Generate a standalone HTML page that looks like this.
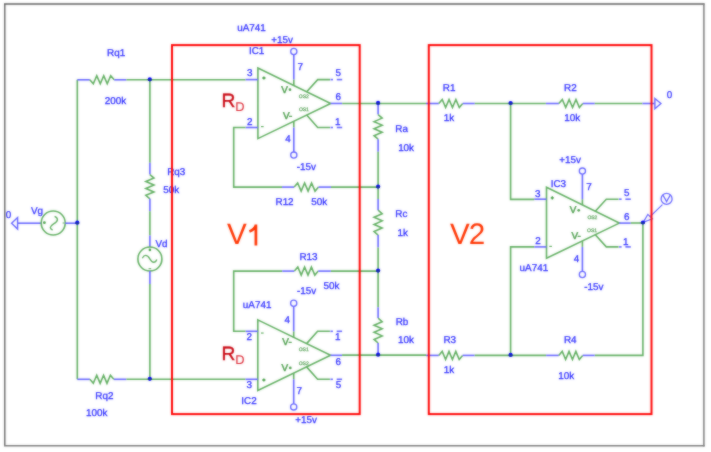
<!DOCTYPE html>
<html><head><meta charset="utf-8"><style>
html,body{margin:0;padding:0;background:#fff;}
svg{display:block;}
text{font-family:"Liberation Sans",sans-serif;text-rendering:geometricPrecision;}
text.t{stroke:#3030ff;stroke-width:0.3px;}
text.g{stroke:#4f9f4f;stroke-width:0.5px;}
text.o{stroke:#62a862;stroke-width:0.25px;}
</style></head><body>
<svg width="711" height="452" viewBox="0 0 711 452">
<defs><filter id="bl" x="0" y="0" width="1" height="1" color-interpolation-filters="sRGB"><feGaussianBlur in="SourceGraphic" stdDeviation="0.8" result="b"/><feComposite in="SourceGraphic" in2="b" operator="arithmetic" k1="0" k2="0.45" k3="0.55" k4="0"/></filter></defs>
<rect width="711" height="452" fill="#fff"/>
<g filter="url(#bl)">
<rect width="711" height="452" fill="#fff"/>
<line x1="4.8" y1="4" x2="4.8" y2="445.5" stroke="#5c5c5c" stroke-width="1.35"/>
<line x1="4" y1="4.0" x2="704.5" y2="4.0" stroke="#5c5c5c" stroke-width="1.35"/>
<line x1="703.9" y1="3.6" x2="703.9" y2="446.6" stroke="#7a7a7a" stroke-width="1.5"/>
<line x1="4" y1="445.8" x2="704.6" y2="445.8" stroke="#7a7a7a" stroke-width="1.5"/>
<line x1="77.30" y1="79.80" x2="77.30" y2="379.30" stroke="#60ae60" stroke-width="1.6"/>
<line x1="77.30" y1="79.80" x2="89.80" y2="79.80" stroke="#6464ff" stroke-width="1.6"/>
<polyline points="89.80,79.80 93.29,83.85 96.77,75.75 100.26,83.85 103.74,75.75 107.23,83.85 110.71,75.75 114.20,79.80" stroke="#60ae60" stroke-width="1.6" fill="none" stroke-linejoin="miter"/>
<line x1="114.20" y1="79.80" x2="126.40" y2="79.80" stroke="#6464ff" stroke-width="1.6"/>
<line x1="126.40" y1="79.70" x2="245.60" y2="79.70" stroke="#60ae60" stroke-width="1.6"/>
<line x1="149.90" y1="79.80" x2="149.90" y2="162.70" stroke="#60ae60" stroke-width="1.6"/>
<line x1="149.90" y1="162.70" x2="149.90" y2="174.60" stroke="#6464ff" stroke-width="1.6"/>
<polyline points="149.90,174.60 153.95,178.06 145.85,181.51 153.95,184.97 145.85,188.43 153.95,191.89 145.85,195.34 149.90,198.80" stroke="#60ae60" stroke-width="1.6" fill="none" stroke-linejoin="miter"/>
<line x1="149.90" y1="198.80" x2="149.90" y2="211.20" stroke="#6464ff" stroke-width="1.6"/>
<line x1="149.90" y1="211.20" x2="149.90" y2="235.50" stroke="#60ae60" stroke-width="1.6"/>
<line x1="149.90" y1="235.50" x2="149.90" y2="247.00" stroke="#6464ff" stroke-width="1.6"/>
<circle cx="149.90" cy="259.00" r="12.00" stroke="#60ae60" stroke-width="1.6" fill="none"/>
<path d="M142.3,258.2 C144.1,254.6 147.1,254.2 149.8,258.8 C152.4,263.4 155.3,263.2 156.8,259.4" stroke="#60ae60" stroke-width="1.4" fill="none"/>
<circle cx="149.90" cy="249.90" r="1.30" fill="#48a048"/>
<rect x="148.6" y="268.1" width="2.6" height="1.1" fill="#6aae6a"/>
<line x1="149.90" y1="271.00" x2="149.90" y2="283.90" stroke="#6464ff" stroke-width="1.6"/>
<line x1="149.90" y1="283.90" x2="149.90" y2="379.30" stroke="#60ae60" stroke-width="1.6"/>
<line x1="77.30" y1="379.30" x2="89.90" y2="379.30" stroke="#6464ff" stroke-width="1.6"/>
<polyline points="89.90,379.30 93.31,383.35 96.73,375.25 100.14,383.35 103.56,375.25 106.97,383.35 110.39,375.25 113.80,379.30" stroke="#60ae60" stroke-width="1.6" fill="none" stroke-linejoin="miter"/>
<line x1="113.80" y1="379.30" x2="126.40" y2="379.30" stroke="#6464ff" stroke-width="1.6"/>
<line x1="126.40" y1="379.30" x2="245.50" y2="379.30" stroke="#60ae60" stroke-width="1.6"/>
<line x1="17.60" y1="223.20" x2="41.00" y2="223.20" stroke="#6464ff" stroke-width="1.6"/>
<polygon points="17.60,217.60 11.60,223.20 17.60,229.00" stroke="#6464ff" stroke-width="1.4" fill="none" stroke-linejoin="miter"/>
<circle cx="53.20" cy="223.00" r="12.00" stroke="#60ae60" stroke-width="1.6" fill="none"/>
<line x1="65.20" y1="223.20" x2="77.30" y2="223.20" stroke="#6464ff" stroke-width="1.6"/>
<path d="M54.6,216.4 C58.6,218.2 58.4,221.2 53.6,223.8 C49.0,226.6 49.8,228.6 52.6,230.0" stroke="#60ae60" stroke-width="1.4" fill="none"/>
<circle cx="44.40" cy="222.70" r="1.40" fill="#48a048"/>
<line x1="62.60" y1="223.00" x2="64.40" y2="223.00" stroke="#60ae60" stroke-width="1.0"/>
<polygon points="257.90,68.00 330.70,103.45 257.90,138.60" stroke="#60ae60" stroke-width="1.6" fill="none" stroke-linejoin="miter"/>
<line x1="245.60" y1="79.60" x2="257.90" y2="79.60" stroke="#6464ff" stroke-width="1.6"/>
<line x1="245.60" y1="127.50" x2="257.90" y2="127.50" stroke="#6464ff" stroke-width="1.6"/>
<path d="M262.30,78.00H265.50M263.90,76.40V79.60" stroke="#3f9a3f" stroke-width="1.3"/>
<circle cx="263.90" cy="78.00" r="0.80" fill="#3f9a3f"/>
<rect x="261.00" y="126.00" width="2.6" height="1.2" fill="#5aaa5a"/>
<line x1="293.80" y1="85.48" x2="293.80" y2="79.60" stroke="#60ae60" stroke-width="1.6"/>
<line x1="293.80" y1="79.60" x2="293.80" y2="54.60" stroke="#6464ff" stroke-width="1.6"/>
<circle cx="293.80" cy="51.50" r="3.10" stroke="#6464ff" stroke-width="1.3" fill="none"/>
<line x1="293.80" y1="121.27" x2="293.80" y2="127.50" stroke="#60ae60" stroke-width="1.6"/>
<line x1="293.80" y1="127.50" x2="293.80" y2="152.00" stroke="#6464ff" stroke-width="1.6"/>
<circle cx="293.80" cy="155.10" r="3.10" stroke="#6464ff" stroke-width="1.3" fill="none"/>
<polyline points="306.70,91.76 317.70,79.60 330.00,79.60" stroke="#60ae60" stroke-width="1.6" fill="none" stroke-linejoin="miter"/>
<polyline points="306.70,115.04 317.70,127.50 330.00,127.50" stroke="#60ae60" stroke-width="1.6" fill="none" stroke-linejoin="miter"/>
<line x1="330.50" y1="79.60" x2="333.00" y2="79.60" stroke="#6464ff" stroke-width="1.6"/>
<line x1="336.80" y1="79.60" x2="342.20" y2="79.60" stroke="#6464ff" stroke-width="1.6"/>
<line x1="330.50" y1="127.50" x2="333.00" y2="127.50" stroke="#6464ff" stroke-width="1.6"/>
<line x1="336.80" y1="127.50" x2="342.20" y2="127.50" stroke="#6464ff" stroke-width="1.6"/>
<line x1="330.70" y1="103.45" x2="342.20" y2="103.45" stroke="#6464ff" stroke-width="1.6"/>
<polygon points="257.80,319.90 330.60,355.30 257.80,390.50" stroke="#60ae60" stroke-width="1.6" fill="none" stroke-linejoin="miter"/>
<line x1="245.50" y1="331.30" x2="257.80" y2="331.30" stroke="#6464ff" stroke-width="1.6"/>
<line x1="245.50" y1="379.30" x2="257.80" y2="379.30" stroke="#6464ff" stroke-width="1.6"/>
<path d="M262.25,380.00H265.45M263.85,378.40V381.60" stroke="#3f9a3f" stroke-width="1.3"/>
<circle cx="263.85" cy="380.00" r="0.80" fill="#3f9a3f"/>
<rect x="261.00" y="332.45" width="2.6" height="1.2" fill="#5aaa5a"/>
<line x1="293.70" y1="337.36" x2="293.70" y2="331.30" stroke="#60ae60" stroke-width="1.6"/>
<line x1="293.70" y1="331.30" x2="293.70" y2="306.30" stroke="#6464ff" stroke-width="1.6"/>
<circle cx="293.70" cy="303.20" r="3.10" stroke="#6464ff" stroke-width="1.3" fill="none"/>
<line x1="293.70" y1="373.14" x2="293.70" y2="379.30" stroke="#60ae60" stroke-width="1.6"/>
<line x1="293.70" y1="379.30" x2="293.70" y2="403.80" stroke="#6464ff" stroke-width="1.6"/>
<circle cx="293.70" cy="406.90" r="3.10" stroke="#6464ff" stroke-width="1.3" fill="none"/>
<polyline points="306.60,343.63 317.60,331.30 329.90,331.30" stroke="#60ae60" stroke-width="1.6" fill="none" stroke-linejoin="miter"/>
<polyline points="306.60,366.90 317.60,379.30 329.90,379.30" stroke="#60ae60" stroke-width="1.6" fill="none" stroke-linejoin="miter"/>
<line x1="330.40" y1="331.30" x2="332.90" y2="331.30" stroke="#6464ff" stroke-width="1.6"/>
<line x1="336.70" y1="331.30" x2="342.10" y2="331.30" stroke="#6464ff" stroke-width="1.6"/>
<line x1="330.40" y1="379.30" x2="332.90" y2="379.30" stroke="#6464ff" stroke-width="1.6"/>
<line x1="336.70" y1="379.30" x2="342.10" y2="379.30" stroke="#6464ff" stroke-width="1.6"/>
<line x1="330.60" y1="355.30" x2="342.10" y2="355.30" stroke="#6464ff" stroke-width="1.6"/>
<polygon points="546.50,187.30 619.30,223.10 546.50,258.30" stroke="#60ae60" stroke-width="1.6" fill="none" stroke-linejoin="miter"/>
<line x1="534.20" y1="199.20" x2="546.50" y2="199.20" stroke="#6464ff" stroke-width="1.6"/>
<line x1="534.20" y1="246.90" x2="546.50" y2="246.90" stroke="#6464ff" stroke-width="1.6"/>
<path d="M550.70,197.90H553.90M552.30,196.30V199.50" stroke="#3f9a3f" stroke-width="1.3"/>
<circle cx="552.30" cy="197.90" r="0.80" fill="#3f9a3f"/>
<rect x="549.30" y="245.80" width="2.6" height="1.2" fill="#5aaa5a"/>
<line x1="582.40" y1="204.95" x2="582.40" y2="199.20" stroke="#60ae60" stroke-width="1.6"/>
<line x1="582.40" y1="199.20" x2="582.40" y2="174.20" stroke="#6464ff" stroke-width="1.6"/>
<circle cx="582.40" cy="171.10" r="3.10" stroke="#6464ff" stroke-width="1.3" fill="none"/>
<line x1="582.40" y1="240.94" x2="582.40" y2="246.90" stroke="#60ae60" stroke-width="1.6"/>
<line x1="582.40" y1="246.90" x2="582.40" y2="271.40" stroke="#6464ff" stroke-width="1.6"/>
<circle cx="582.40" cy="274.50" r="3.10" stroke="#6464ff" stroke-width="1.3" fill="none"/>
<polyline points="595.30,211.30 606.30,199.20 618.60,199.20" stroke="#60ae60" stroke-width="1.6" fill="none" stroke-linejoin="miter"/>
<polyline points="595.30,234.70 606.30,246.90 618.60,246.90" stroke="#60ae60" stroke-width="1.6" fill="none" stroke-linejoin="miter"/>
<line x1="619.10" y1="199.20" x2="621.60" y2="199.20" stroke="#6464ff" stroke-width="1.6"/>
<line x1="625.40" y1="199.20" x2="630.80" y2="199.20" stroke="#6464ff" stroke-width="1.6"/>
<line x1="619.10" y1="246.90" x2="621.60" y2="246.90" stroke="#6464ff" stroke-width="1.6"/>
<line x1="625.40" y1="246.90" x2="630.80" y2="246.90" stroke="#6464ff" stroke-width="1.6"/>
<line x1="619.30" y1="223.10" x2="630.80" y2="223.10" stroke="#6464ff" stroke-width="1.6"/>
<polyline points="245.60,127.50 233.70,127.50 233.70,187.10 282.00,187.10" stroke="#60ae60" stroke-width="1.6" fill="none" stroke-linejoin="miter"/>
<line x1="282.00" y1="187.10" x2="294.20" y2="187.10" stroke="#6464ff" stroke-width="1.6"/>
<polyline points="294.20,187.10 297.67,183.05 301.14,191.15 304.61,183.05 308.09,191.15 311.56,183.05 315.03,191.15 318.50,187.10" stroke="#60ae60" stroke-width="1.6" fill="none" stroke-linejoin="miter"/>
<line x1="318.50" y1="187.10" x2="331.00" y2="187.10" stroke="#6464ff" stroke-width="1.6"/>
<line x1="331.00" y1="187.10" x2="378.10" y2="187.10" stroke="#60ae60" stroke-width="1.6"/>
<polyline points="245.50,331.20 233.70,331.20 233.70,271.10 282.20,271.10" stroke="#60ae60" stroke-width="1.6" fill="none" stroke-linejoin="miter"/>
<line x1="282.20" y1="271.10" x2="294.40" y2="271.10" stroke="#6464ff" stroke-width="1.6"/>
<polyline points="294.40,271.10 297.80,267.05 301.20,275.15 304.60,267.05 308.00,275.15 311.40,267.05 314.80,275.15 318.20,271.10" stroke="#60ae60" stroke-width="1.6" fill="none" stroke-linejoin="miter"/>
<line x1="318.20" y1="271.10" x2="330.90" y2="271.10" stroke="#6464ff" stroke-width="1.6"/>
<line x1="330.90" y1="271.10" x2="378.10" y2="271.10" stroke="#60ae60" stroke-width="1.6"/>
<line x1="342.20" y1="103.45" x2="426.00" y2="103.45" stroke="#60ae60" stroke-width="1.6"/>
<line x1="342.10" y1="355.15" x2="426.10" y2="355.15" stroke="#60ae60" stroke-width="1.6"/>
<line x1="378.10" y1="103.45" x2="378.10" y2="114.60" stroke="#6464ff" stroke-width="1.6"/>
<polyline points="378.10,114.60 382.15,118.11 374.05,121.63 382.15,125.14 374.05,128.66 382.15,132.17 374.05,135.69 378.10,139.20" stroke="#60ae60" stroke-width="1.6" fill="none" stroke-linejoin="miter"/>
<line x1="378.10" y1="139.20" x2="378.10" y2="151.80" stroke="#6464ff" stroke-width="1.6"/>
<line x1="378.10" y1="151.80" x2="378.10" y2="198.90" stroke="#60ae60" stroke-width="1.6"/>
<line x1="378.10" y1="198.90" x2="378.10" y2="210.20" stroke="#6464ff" stroke-width="1.6"/>
<polyline points="378.10,210.20 382.15,213.76 374.05,217.31 382.15,220.87 374.05,224.43 382.15,227.99 374.05,231.54 378.10,235.10" stroke="#60ae60" stroke-width="1.6" fill="none" stroke-linejoin="miter"/>
<line x1="378.10" y1="235.10" x2="378.10" y2="247.50" stroke="#6464ff" stroke-width="1.6"/>
<line x1="378.10" y1="247.50" x2="378.10" y2="307.20" stroke="#60ae60" stroke-width="1.6"/>
<line x1="378.10" y1="307.20" x2="378.10" y2="318.10" stroke="#6464ff" stroke-width="1.6"/>
<polyline points="378.10,318.10 382.15,321.66 374.05,325.21 382.15,328.77 374.05,332.33 382.15,335.89 374.05,339.44 378.10,343.00" stroke="#60ae60" stroke-width="1.6" fill="none" stroke-linejoin="miter"/>
<line x1="378.10" y1="343.00" x2="378.10" y2="355.15" stroke="#6464ff" stroke-width="1.6"/>
<line x1="426.00" y1="103.50" x2="438.80" y2="103.50" stroke="#6464ff" stroke-width="1.6"/>
<polyline points="438.80,103.50 442.21,99.45 445.63,107.55 449.04,99.45 452.46,107.55 455.87,99.45 459.29,107.55 462.70,103.50" stroke="#60ae60" stroke-width="1.6" fill="none" stroke-linejoin="miter"/>
<line x1="462.70" y1="103.50" x2="474.80" y2="103.50" stroke="#6464ff" stroke-width="1.6"/>
<line x1="474.80" y1="103.50" x2="545.90" y2="103.50" stroke="#60ae60" stroke-width="1.6"/>
<line x1="545.90" y1="103.50" x2="558.90" y2="103.50" stroke="#6464ff" stroke-width="1.6"/>
<polyline points="558.90,103.50 562.31,99.45 565.73,107.55 569.14,99.45 572.56,107.55 575.97,99.45 579.39,107.55 582.80,103.50" stroke="#60ae60" stroke-width="1.6" fill="none" stroke-linejoin="miter"/>
<line x1="582.80" y1="103.50" x2="594.80" y2="103.50" stroke="#6464ff" stroke-width="1.6"/>
<line x1="594.80" y1="103.50" x2="642.40" y2="103.50" stroke="#60ae60" stroke-width="1.6"/>
<line x1="642.40" y1="103.50" x2="654.90" y2="103.50" stroke="#6464ff" stroke-width="1.6"/>
<polygon points="654.90,98.50 660.90,103.50 654.90,108.70" stroke="#6464ff" stroke-width="1.4" fill="none" stroke-linejoin="miter"/>
<polyline points="510.60,103.50 510.60,199.40 534.20,199.40" stroke="#60ae60" stroke-width="1.6" fill="none" stroke-linejoin="miter"/>
<polyline points="534.20,246.90 510.60,246.90 510.60,355.40" stroke="#60ae60" stroke-width="1.6" fill="none" stroke-linejoin="miter"/>
<line x1="630.80" y1="223.00" x2="642.90" y2="223.00" stroke="#60ae60" stroke-width="1.6"/>
<polyline points="642.90,223.00 642.90,355.40 594.70,355.40" stroke="#60ae60" stroke-width="1.6" fill="none" stroke-linejoin="miter"/>
<line x1="546.10" y1="355.40" x2="558.80" y2="355.40" stroke="#6464ff" stroke-width="1.6"/>
<polyline points="558.80,355.40 562.21,351.35 565.63,359.45 569.04,351.35 572.46,359.45 575.87,351.35 579.29,359.45 582.70,355.40" stroke="#60ae60" stroke-width="1.6" fill="none" stroke-linejoin="miter"/>
<line x1="582.70" y1="355.40" x2="594.70" y2="355.40" stroke="#6464ff" stroke-width="1.6"/>
<line x1="546.10" y1="355.40" x2="510.60" y2="355.40" stroke="#60ae60" stroke-width="1.6"/>
<line x1="426.10" y1="355.40" x2="438.80" y2="355.40" stroke="#6464ff" stroke-width="1.6"/>
<polyline points="438.80,355.40 442.20,351.35 445.60,359.45 449.00,351.35 452.40,359.45 455.80,351.35 459.20,359.45 462.60,355.40" stroke="#60ae60" stroke-width="1.6" fill="none" stroke-linejoin="miter"/>
<line x1="462.60" y1="355.40" x2="474.70" y2="355.40" stroke="#6464ff" stroke-width="1.6"/>
<line x1="474.70" y1="355.40" x2="510.60" y2="355.40" stroke="#60ae60" stroke-width="1.6"/>
<polygon points="643.20,222.40 647.80,214.40 652.40,218.80" stroke="#6464ff" stroke-width="1.2" fill="none" stroke-linejoin="miter"/>
<line x1="650.10" y1="216.60" x2="662.40" y2="204.60" stroke="#6464ff" stroke-width="1.2"/>
<circle cx="666.60" cy="198.90" r="5.50" stroke="#6464ff" stroke-width="1.3" fill="none"/>
<polyline points="663.10,195.30 666.60,201.60 670.10,195.30" stroke="#6464ff" stroke-width="1.3" fill="none" stroke-linejoin="miter"/>
<text class="t" x="107.11" y="55.81" font-size="9.9" fill="#3030ff" font-weight="normal" >Rq1</text>
<text class="t" x="104.71" y="103.97" font-size="9.9" fill="#3030ff" font-weight="normal" >200k</text>
<text class="t" x="167.18" y="174.61" font-size="9.9" fill="#3030ff" font-weight="normal" >Rq3</text>
<text class="t" x="163.36" y="192.57" font-size="9.9" fill="#3030ff" font-weight="normal" >50k</text>
<text class="t" x="155.49" y="247.37" font-size="9.9" fill="#3030ff" font-weight="normal" >Vd</text>
<text class="t" x="30.89" y="214.21" font-size="9.9" fill="#3030ff" font-weight="normal" >Vg</text>
<text class="t" x="5.70" y="218.11" font-size="9.9" fill="#3030ff" font-weight="normal" >0</text>
<text class="t" x="95.31" y="398.51" font-size="9.9" fill="#3030ff" font-weight="normal" >Rq2</text>
<text class="t" x="86.08" y="415.97" font-size="9.9" fill="#3030ff" font-weight="normal" >100k</text>
<text class="t" x="237.16" y="30.81" font-size="9.9" fill="#3030ff" font-weight="normal" >uA741</text>
<text class="t" x="271.25" y="42.71" font-size="9.9" fill="#3030ff" font-weight="normal" >+15v</text>
<text class="t" x="248.98" y="54.11" font-size="9.9" fill="#3030ff" font-weight="normal" >IC1</text>
<text class="t" x="246.98" y="76.01" font-size="9.9" fill="#3030ff" font-weight="normal" >3</text>
<text class="t" x="246.90" y="124.91" font-size="9.9" fill="#3030ff" font-weight="normal" >2</text>
<text class="t" x="297.44" y="69.91" font-size="9.9" fill="#3030ff" font-weight="normal" >7</text>
<text class="t" x="285.13" y="141.71" font-size="9.9" fill="#3030ff" font-weight="normal" >4</text>
<text class="t" x="335.46" y="76.21" font-size="9.9" fill="#3030ff" font-weight="normal" >5</text>
<text class="t" x="335.41" y="100.21" font-size="9.9" fill="#3030ff" font-weight="normal" >6</text>
<text class="t" x="335.11" y="124.81" font-size="9.9" fill="#3030ff" font-weight="normal" >1</text>
<text class="g" x="281.25" y="92.91" font-size="9.9" fill="#4f9f4f" font-weight="normal" >V</text>
<circle cx="290.00" cy="89.70" r="1.35" fill="#4f9f4f"/>
<text class="g" x="282.90" y="118.71" font-size="9.9" fill="#4f9f4f" font-weight="normal" >V-</text>
<text class="o" x="298.75" y="97.59" font-size="5.0" fill="#62a862" font-weight="normal" >OS2</text>
<text class="o" x="298.90" y="111.49" font-size="5.0" fill="#62a862" font-weight="normal" >OS1</text>
<text class="t" x="296.72" y="169.71" font-size="9.9" fill="#3030ff" font-weight="normal" >-15v</text>
<text class="t" x="275.51" y="205.11" font-size="9.9" fill="#3030ff" font-weight="normal" >R12</text>
<text class="t" x="311.31" y="205.37" font-size="9.9" fill="#3030ff" font-weight="normal" >50k</text>
<text class="t" x="299.48" y="259.71" font-size="9.9" fill="#3030ff" font-weight="normal" >R13</text>
<text class="t" x="323.51" y="288.97" font-size="9.9" fill="#3030ff" font-weight="normal" >50k</text>
<text class="t" x="296.97" y="294.31" font-size="9.9" fill="#3030ff" font-weight="normal" >-15v</text>
<text class="t" x="242.86" y="307.91" font-size="9.9" fill="#3030ff" font-weight="normal" >uA741</text>
<text class="t" x="284.38" y="323.41" font-size="9.9" fill="#3030ff" font-weight="normal" >4</text>
<text class="t" x="246.60" y="339.81" font-size="9.9" fill="#3030ff" font-weight="normal" >2</text>
<text class="t" x="334.91" y="339.81" font-size="9.9" fill="#3030ff" font-weight="normal" >1</text>
<text class="g" x="282.35" y="344.91" font-size="9.9" fill="#4f9f4f" font-weight="normal" >V-</text>
<text class="o" x="298.70" y="350.79" font-size="5.0" fill="#62a862" font-weight="normal" >OS1</text>
<text class="t" x="335.61" y="364.61" font-size="9.9" fill="#3030ff" font-weight="normal" >6</text>
<text class="o" x="298.70" y="364.59" font-size="5.0" fill="#62a862" font-weight="normal" >OS2</text>
<text class="g" x="281.55" y="370.91" font-size="9.9" fill="#4f9f4f" font-weight="normal" >V</text>
<circle cx="290.30" cy="367.90" r="1.35" fill="#4f9f4f"/>
<text class="t" x="246.48" y="388.31" font-size="9.9" fill="#3030ff" font-weight="normal" >3</text>
<text class="t" x="335.66" y="387.51" font-size="9.9" fill="#3030ff" font-weight="normal" >5</text>
<text class="t" x="296.39" y="393.91" font-size="9.9" fill="#3030ff" font-weight="normal" >7</text>
<text class="t" x="241.29" y="403.81" font-size="9.9" fill="#3030ff" font-weight="normal" >IC2</text>
<text class="t" x="295.15" y="423.01" font-size="9.9" fill="#3030ff" font-weight="normal" >+15v</text>
<text class="t" x="395.27" y="131.71" font-size="9.9" fill="#3030ff" font-weight="normal" >Ra</text>
<text class="t" x="398.13" y="151.07" font-size="9.9" fill="#3030ff" font-weight="normal" >10k</text>
<text class="t" x="395.27" y="216.71" font-size="9.9" fill="#3030ff" font-weight="normal" >Rc</text>
<text class="t" x="397.44" y="235.77" font-size="9.9" fill="#3030ff" font-weight="normal" >1k</text>
<text class="t" x="395.67" y="325.47" font-size="9.9" fill="#3030ff" font-weight="normal" >Rb</text>
<text class="t" x="398.03" y="343.07" font-size="9.9" fill="#3030ff" font-weight="normal" >10k</text>
<text class="t" x="442.86" y="90.51" font-size="9.9" fill="#3030ff" font-weight="normal" >R1</text>
<text class="t" x="443.74" y="121.27" font-size="9.9" fill="#3030ff" font-weight="normal" >1k</text>
<text class="t" x="564.12" y="90.91" font-size="9.9" fill="#3030ff" font-weight="normal" >R2</text>
<text class="t" x="564.23" y="121.17" font-size="9.9" fill="#3030ff" font-weight="normal" >10k</text>
<text class="t" x="666.65" y="97.61" font-size="9.9" fill="#3030ff" font-weight="normal" >0</text>
<text class="t" x="559.15" y="163.01" font-size="9.9" fill="#3030ff" font-weight="normal" >+15v</text>
<text class="t" x="550.71" y="186.71" font-size="9.9" fill="#3030ff" font-weight="normal" >IC3</text>
<text class="t" x="535.08" y="197.11" font-size="9.9" fill="#3030ff" font-weight="normal" >3</text>
<text class="t" x="586.14" y="190.41" font-size="9.9" fill="#3030ff" font-weight="normal" >7</text>
<text class="t" x="624.06" y="196.31" font-size="9.9" fill="#3030ff" font-weight="normal" >5</text>
<text class="g" x="569.85" y="213.41" font-size="9.9" fill="#4f9f4f" font-weight="normal" >V</text>
<circle cx="578.70" cy="210.30" r="1.35" fill="#4f9f4f"/>
<text class="o" x="587.40" y="219.09" font-size="5.0" fill="#62a862" font-weight="normal" >OS2</text>
<text class="t" x="624.01" y="220.31" font-size="9.9" fill="#3030ff" font-weight="normal" >6</text>
<text class="o" x="587.05" y="231.99" font-size="5.0" fill="#62a862" font-weight="normal" >OS1</text>
<text class="g" x="571.40" y="239.21" font-size="9.9" fill="#4f9f4f" font-weight="normal" >V-</text>
<text class="t" x="535.20" y="244.31" font-size="9.9" fill="#3030ff" font-weight="normal" >2</text>
<text class="t" x="623.01" y="245.01" font-size="9.9" fill="#3030ff" font-weight="normal" >1</text>
<text class="t" x="573.68" y="261.91" font-size="9.9" fill="#3030ff" font-weight="normal" >4</text>
<text class="t" x="519.61" y="270.71" font-size="9.9" fill="#3030ff" font-weight="normal" >uA741</text>
<text class="t" x="584.27" y="289.71" font-size="9.9" fill="#3030ff" font-weight="normal" >-15v</text>
<text class="t" x="443.43" y="343.01" font-size="9.9" fill="#3030ff" font-weight="normal" >R3</text>
<text class="t" x="443.69" y="373.37" font-size="9.9" fill="#3030ff" font-weight="normal" >1k</text>
<text class="t" x="563.96" y="342.91" font-size="9.9" fill="#3030ff" font-weight="normal" >R4</text>
<text class="t" x="558.23" y="379.37" font-size="9.9" fill="#3030ff" font-weight="normal" >10k</text>
<text class="" x="221.62" y="106.91" font-size="19.2" fill="#c8000c" font-weight="normal" stroke="#c8000c" stroke-width="0.35">R</text>
<text class="" x="235.26" y="110.51" font-size="12.8" fill="#dc2a36" font-weight="normal" stroke="#dc2a36" stroke-width="0.1">D</text>
<text class="" x="221.62" y="360.41" font-size="19.2" fill="#c8000c" font-weight="normal" stroke="#c8000c" stroke-width="0.35">R</text>
<text class="" x="235.26" y="364.01" font-size="12.8" fill="#dc2a36" font-weight="normal" stroke="#dc2a36" stroke-width="0.1">D</text>
<text class="" x="227.03" y="243.86" font-size="29.6" fill="#ff3300" font-weight="normal" >V</text>
<path d="M255.9,245.4 V224.6 M256.0,225.2 C254.8,228.4 252.2,230.4 249.4,231.4" stroke="#ff3300" stroke-width="2.7" fill="none"/>
<text class="" x="449.93" y="243.86" font-size="29.6" fill="#ff3300" font-weight="normal" >V</text>
<text class="" x="468.87" y="244.17" font-size="29.6" fill="#ff3300" font-weight="normal" >2</text>
<rect x="172" y="45.1" width="187.7" height="369" stroke="#ff0000" stroke-width="2.0" fill="none"/>
<rect x="428.8" y="45.1" width="222.7" height="369" stroke="#ff0000" stroke-width="2.0" fill="none"/>
<circle cx="149.80" cy="79.30" r="2.1" fill="#0000ff"/>
<line x1="147.90" y1="79.80" x2="151.70" y2="79.80" stroke="#10307a" stroke-width="1.4"/>
<circle cx="149.80" cy="378.80" r="2.1" fill="#0000ff"/>
<line x1="147.90" y1="379.30" x2="151.70" y2="379.30" stroke="#10307a" stroke-width="1.4"/>
<circle cx="77.30" cy="222.70" r="2.1" fill="#0000ff"/>
<line x1="75.40" y1="223.20" x2="79.20" y2="223.20" stroke="#10307a" stroke-width="1.4"/>
<circle cx="378.10" cy="186.60" r="2.1" fill="#0000ff"/>
<line x1="376.20" y1="187.10" x2="380.00" y2="187.10" stroke="#10307a" stroke-width="1.4"/>
<circle cx="378.10" cy="270.60" r="2.1" fill="#0000ff"/>
<line x1="376.20" y1="271.10" x2="380.00" y2="271.10" stroke="#10307a" stroke-width="1.4"/>
<circle cx="378.10" cy="102.95" r="2.1" fill="#0000ff"/>
<line x1="376.20" y1="103.45" x2="380.00" y2="103.45" stroke="#10307a" stroke-width="1.4"/>
<circle cx="378.10" cy="354.65" r="2.1" fill="#0000ff"/>
<line x1="376.20" y1="355.15" x2="380.00" y2="355.15" stroke="#10307a" stroke-width="1.4"/>
<circle cx="510.60" cy="103.00" r="2.1" fill="#0000ff"/>
<line x1="508.70" y1="103.50" x2="512.50" y2="103.50" stroke="#10307a" stroke-width="1.4"/>
<circle cx="642.90" cy="222.50" r="2.1" fill="#0000ff"/>
<line x1="641.00" y1="223.00" x2="644.80" y2="223.00" stroke="#10307a" stroke-width="1.4"/>
<circle cx="510.60" cy="354.90" r="2.1" fill="#0000ff"/>
<line x1="508.70" y1="355.40" x2="512.50" y2="355.40" stroke="#10307a" stroke-width="1.4"/>
</g>
</svg>
</body></html>
